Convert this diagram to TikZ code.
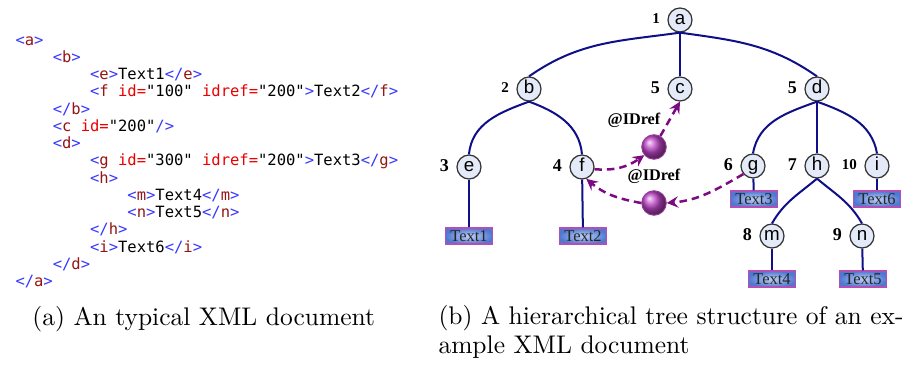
\documentclass[tikz,border=0pt]{standalone}
\usepackage{fontspec}
\setmonofont{DejaVu Sans Mono}
\newfontfamily\lblfont{Liberation Serif}
\newfontfamily\nodefont{Liberation Sans}

\definecolor{xtag}{RGB}{55,55,255}
\definecolor{xname}{RGB}{150,20,20}
\definecolor{xattr}{RGB}{235,0,0}
\definecolor{navyline}{RGB}{15,15,135}
\definecolor{nodefill}{RGB}{228,234,247}
\definecolor{refpurple}{RGB}{125,10,130}
\definecolor{ballpurple}{RGB}{190,70,200}
\definecolor{boxblue}{RGB}{80,120,210}
\definecolor{boxlight}{RGB}{190,208,242}
\definecolor{boxrim}{RGB}{180,80,180}

% xml listing helpers
\newcommand{\xo}[1]{\textcolor{xtag}{<}\textcolor{xname}{#1}\textcolor{xtag}{>}}
\newcommand{\xc}[1]{\textcolor{xtag}{</}\textcolor{xname}{#1}\textcolor{xtag}{>}}
\newcommand{\xs}[1]{\textcolor{xtag}{<}\textcolor{xname}{#1}}
\newcommand{\xa}[2]{ \textcolor{xattr}{#1=}"#2"}
\newcommand{\xe}{\textcolor{xtag}{>}}
\newcommand{\xend}{\textcolor{xtag}{/>}}
\newcommand{\ind}{\phantom{0000}}

\begin{document}
\begin{tikzpicture}[x=0.4pt, y=-0.4pt, label distance=2pt,
    xnode/.style = {draw=black!80, fill=nodefill, circle, line width=0.5pt, minimum size=9.6pt, inner sep=0pt, text height=5pt, text depth=1.3pt, font=\nodefont\fontsize{7.5}{8}\selectfont},
    numlbl/.style = {font=\lblfont\bfseries\fontsize{7.2}{8}\selectfont, inner sep=0.8pt, yshift=0.6pt},
    numsm/.style = {numlbl, font=\lblfont\bfseries\fontsize{6}{7}\selectfont},
    tedge/.style = {draw=navyline, line width=0.8pt},
    txtbox/.style = {draw=boxrim, line width=0.5pt, inner color=boxlight, outer color=boxblue, minimum width=19pt, minimum height=6.4pt, inner sep=0pt, text=black!85, font=\lblfont\fontsize{6.6}{7}\selectfont},
    refball/.style = {circle, minimum size=9.8pt, inner sep=0pt, ball color=ballpurple, draw=refpurple!80, line width=0.4pt},
    idlbl/.style = {font=\lblfont\bfseries\fontsize{6.5}{7}\selectfont, inner sep=0.5pt},
    idarrow/.style = {draw=refpurple, line width=1pt, dash pattern=on 3pt off 2pt, -stealth},
    capt/.style = {inner sep=0pt, font=\fontsize{10.2}{11.5}\selectfont}]
    \useasboundingbox (0,0) rectangle (914,366);

    % (a) the xml listing
    \node[anchor=north west, inner sep=0pt, align=left, font=\ttfamily\fontsize{6.2}{6.9}\selectfont] (xml) at (15,36) {%
    \xo{a}\\
    \ind\xo{b}\\
    \ind\ind\xo{e}Text1\xc{e}\\
    \ind\ind\xs{f}\xa{id}{100}\xa{idref}{200}\xe Text2\xc{f}\\
    \ind\xc{b}\\
    \ind\xs{c}\xa{id}{200}\xend\\
    \ind\xo{d}\\
    \ind\ind\xs{g}\xa{id}{300}\xa{idref}{200}\xe Text3\xc{g}\\
    \ind\ind\xo{h}\\
    \ind\ind\ind\xo{m}Text4\xc{m}\\
    \ind\ind\ind\xo{n}Text5\xc{n}\\
    \ind\ind\xc{h}\\
    \ind\ind\xo{i}Text6\xc{i}\\
    \ind\xc{d}\\
    \xc{a}};

    % (b) the tree
    \node[xnode, label={[numsm]left:1}] (a) at (680,20) {a};
    \node[xnode, label={[numsm]left:2}] (b) at (529,89) {b};
    \node[xnode, label={[numlbl]left:5}] (c) at (680,89) {c};
    \node[xnode, label={[numlbl]left:5}] (d) at (817,89) {d};
    \node[xnode, label={[numlbl]left:3}] (e) at (469,167) {e};
    \node[xnode, label={[numlbl]left:4}] (f) at (582,167) {f};
    \node[xnode, label={[numlbl]left:6}] (g) at (753,166) {g};
    \node[xnode, label={[numlbl]left:7}] (h) at (817,166) {h};
    \node[xnode, label={[numsm]left:10}] (i) at (877,166) {i};
    \node[xnode, label={[numlbl]left:8}] (m) at (772,236) {m};
    \node[xnode, label={[numlbl]left:9}] (n) at (862,236) {n};

    \node[txtbox] (t1) at (469,236) {Text1};
    \node[txtbox] (t2) at (583,236) {Text2};
    \node[txtbox] (t3) at (754,199) {Text3};
    \node[txtbox] (t6) at (877,199) {Text6};
    \node[txtbox] (t4) at (772,279) {Text4};
    \node[txtbox] (t5) at (863,279) {Text5};

    \draw[tedge] (a.south) to[out=188,in=35] (b.north);
    \draw[tedge] (a.south) -- (c.north);
    \draw[tedge] (a.south) to[out=-8,in=145] (d.north);
    \draw[tedge] (b.south) to[out=200,in=85] (e.north);
    \draw[tedge] (b.south) to[out=-20,in=95] (f.north);
    \draw[tedge] (d.south) to[out=200,in=80] (g.north);
    \draw[tedge] (d.south) -- (h.north);
    \draw[tedge] (d.south) to[out=-20,in=100] (i.north);
    \draw[tedge] (h.south) to[out=220,in=60] (m.north);
    \draw[tedge] (h.south) to[out=-40,in=120] (n.north);
    \draw[tedge] (e) -- (t1);
    \draw[tedge] (f) -- (t2);
    \draw[tedge] (g) -- (t3);
    \draw[tedge] (i) -- (t6);
    \draw[tedge] (m) -- (t4);
    \draw[tedge] (n) -- (t5);

    % idref links
    \node[refball, label distance=0.5pt, label={[idlbl, xshift=-8pt]above:@IDref}] (ball1) at (654,147) {};
    \node[refball, label distance=1pt, label={[idlbl]above:@IDref}] (ball2) at (654,203) {};
    \draw[idarrow] (f.-10) to[out=-5,in=215] (ball1.220);
    \draw[idarrow] (ball1.60) -- (c.south);
    \draw[idarrow] (g.220) to[out=210,in=5] (ball2.east);
    \draw[idarrow] (ball2.west) to[out=170,in=-40] (f.-70);

    % captions
    \node[capt, anchor=base west] (capa) at (32,325) {(a) An typical XML document};
    \node[capt, anchor=north west, align=left] (capb) at (438,305) {(b) A hierarchical tree structure of an ex-\\ample XML document};
\end{tikzpicture}
\end{document}
